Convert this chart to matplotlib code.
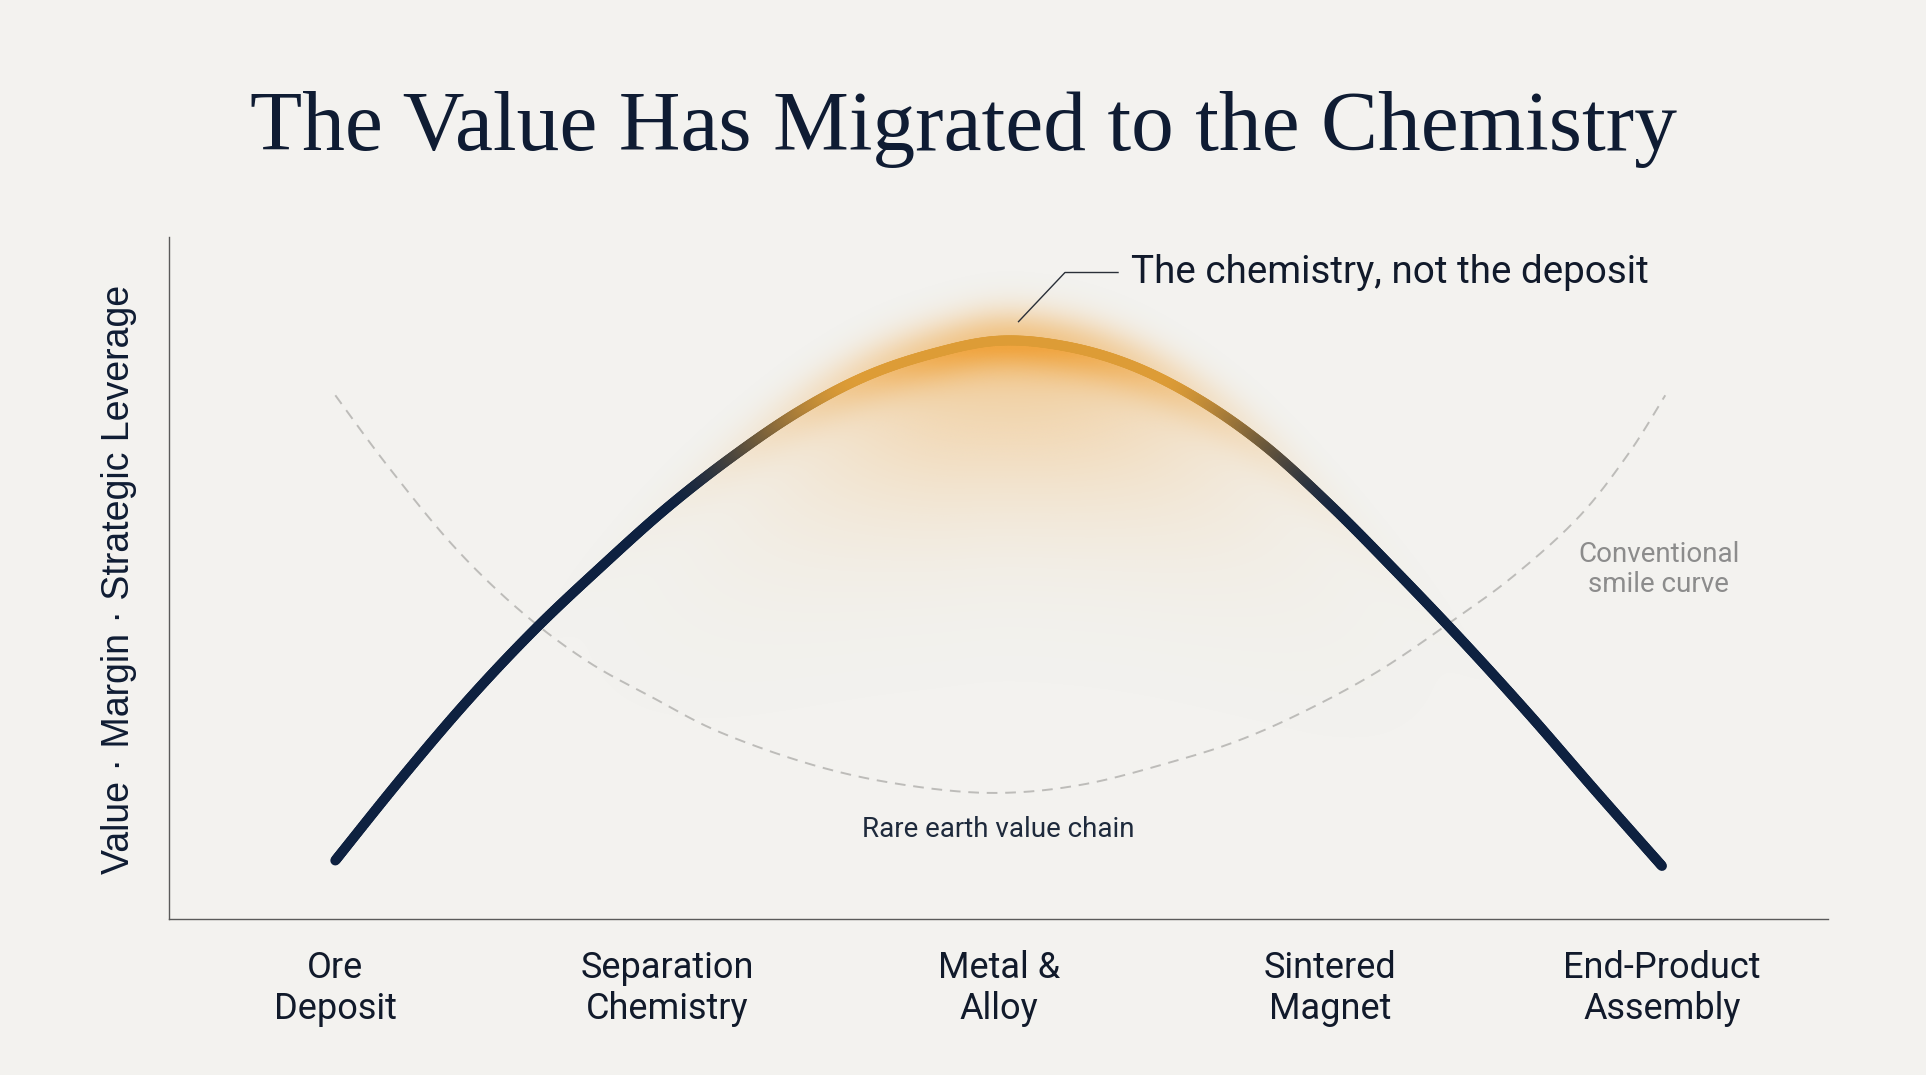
import numpy as np
import matplotlib
matplotlib.use("Agg")
from matplotlib import pyplot as plt
from matplotlib.collections import LineCollection
from matplotlib.colors import to_rgb

# categories along the rare earth value chain
stages = ["Ore\nDeposit", "Separation\nChemistry", "Metal &\nAlloy",
          "Sintered\nMagnet", "End-Product\nAssembly"]

# main curve (x = stage position, y = relative value)
main_x = [0.0, 0.2, 0.4, 0.6, 0.8, 1.0, 1.2, 1.4, 1.6, 1.8, 2.0,
          2.2, 2.4, 2.6, 2.8, 3.0, 3.2, 3.4, 3.6, 3.8, 4.0]
main_y = [0.86, 2.07, 3.21, 4.24, 5.16, 6.03, 6.79, 7.45, 7.96, 8.29, 8.48,
          8.40, 8.12, 7.63, 6.95, 6.07, 5.09, 4.07, 3.00, 1.88, 0.78]

# conventional smile curve (dashed)
smile_x = [0.0, 0.16, 0.36, 0.56, 0.76, 0.96, 1.16, 1.44, 1.70, 1.98, 2.25,
           2.54, 2.74, 2.94, 3.15, 3.35, 3.55, 3.75, 3.90, 4.01]
smile_y = [7.68, 6.63, 5.45, 4.51, 3.78, 3.24, 2.74, 2.26, 1.98, 1.85, 1.97,
           2.33, 2.65, 3.09, 3.65, 4.31, 5.02, 5.90, 6.83, 7.68]

BG = "#f3f2ef"
NAVY = "#0e2140"
GOLD = "#dd9c36"
PEAK_X = 2.04


def smooth_path(xs, ys, steps=40):
    # catmull-rom through the read points (cubic bezier pieces), sampled finely
    p = np.column_stack([xs, ys]).astype(float)
    ext = np.vstack([p[0], p, p[-1]])
    u = np.linspace(0, 1, steps, endpoint=False)[:, None]
    out = []
    for i in range(1, len(ext) - 2):
        b0 = ext[i]
        b1 = ext[i] + (ext[i + 1] - ext[i - 1]) / 6
        b2 = ext[i + 1] - (ext[i + 2] - ext[i]) / 6
        b3 = ext[i + 1]
        out.append((1 - u) ** 3 * b0 + 3 * (1 - u) ** 2 * u * b1
                   + 3 * (1 - u) * u ** 2 * b2 + u ** 3 * b3)
    out.append(p[-1][None, :])
    poly = np.vstack(out)
    return poly[:, 0], poly[:, 1]


fig = plt.figure(figsize=(19.26, 10.75), dpi=100, facecolor=BG)
ax = fig.add_axes([0.088, 0.145, 0.861, 0.6345])
ax.set_facecolor(BG)
ax.set_xlim(-0.5, 4.5)
ax.set_ylim(0, 10)

cx, cy = smooth_path(main_x, main_y)
sx, sy = smooth_path(smile_x, smile_y)

# glow around the peak
gx = np.linspace(-0.5, 4.5, 900)
gy = np.linspace(0, 10, 700)
X, Y = np.meshgrid(gx, gy)
order = np.argsort(cx)
ycurve = np.interp(X, cx[order], cy[order])
dy = Y - ycurve
wx = np.exp(-((X - PEAK_X) / 0.62) ** 2)
halo = np.exp(-(dy / 0.45) ** 2) * wx
under = np.where(dy < 0, np.exp(-(dy / 2.3) ** 2), 0) * np.exp(-((X - PEAK_X) / 0.6) ** 2)
alpha = np.clip(0.6 * halo + 0.45 * under, 0, 1)
glow = np.zeros(X.shape + (4,))
glow[..., :3] = to_rgb("#f0a540")
glow[..., 3] = alpha
ax.imshow(glow, extent=(-0.5, 4.5, 0, 10), origin="lower", aspect="auto",
          interpolation="bilinear", zorder=1)

# dashed smile curve
ax.plot(sx, sy, color="#bdbcb9", lw=1.4, ls=(0, (5.5, 4)), zorder=2)

# main curve with colour gradient navy -> gold -> navy
pts = np.column_stack([cx, cy]).reshape(-1, 1, 2)
segs = np.concatenate([pts[:-1], pts[1:]], axis=1)
mid = (cx[:-1] + cx[1:]) / 2
d = np.abs(mid - PEAK_X)
w = np.clip(1 - (d - 0.45) / 0.6, 0, 1)
w = w * w * (3 - 2 * w)
c0 = np.array(to_rgb(NAVY))
c1 = np.array(to_rgb(GOLD))
cols = c0[None, :] * (1 - w[:, None]) + c1[None, :] * w[:, None]
lc = LineCollection(segs, colors=cols, linewidths=7.2, capstyle="round",
                    joinstyle="round", zorder=3)
ax.add_collection(lc)

# annotation with leader line
ax.plot([2.06, 2.20, 2.36], [8.76, 9.48, 9.48], color="#2a2f38", lw=1.0, zorder=4)
ax.text(2.40, 9.48, "The chemistry, not the deposit", fontsize=27.8,
        family="Roboto", color="#111a2b", va="center", ha="left", zorder=4)

ax.text(2.0, 1.32, "Rare earth value chain", fontsize=20, family="Roboto",
        color="#1e2a3c", ha="center", va="center", zorder=4)
ax.text(3.99, 5.12, "Conventional\nsmile curve", fontsize=20, family="Roboto",
        color="#8c8c8c", ha="center", va="center", linespacing=1.15, zorder=4)

# axes styling
for s in ["top", "right"]:
    ax.spines[s].set_visible(False)
for s in ["left", "bottom"]:
    ax.spines[s].set_color("#5a5a5a")
    ax.spines[s].set_linewidth(1.0)
ax.set_yticks([])
ax.set_xticks(range(len(stages)))
ax.set_xticklabels(stages, fontsize=26, family="Roboto", color="#111a2b",
                   linespacing=1.2)
ax.tick_params(axis="x", length=0, pad=22)

fig.text(119 / 1926, 1 - 579 / 1075, "Value \u00b7 Margin \u00b7 Strategic Leverage",
         rotation=90, fontsize=27, family="Liberation Sans", color="#0f1c33",
         ha="center", va="center")

fig.text(0.5, 1 - 150 / 1075, "The Value Has Migrated to the Chemistry",
         fontsize=61.5, family="Liberation Serif", color="#0f1c33",
         ha="center", va="baseline")

fig.savefig("out.png", dpi=100, facecolor=BG)
